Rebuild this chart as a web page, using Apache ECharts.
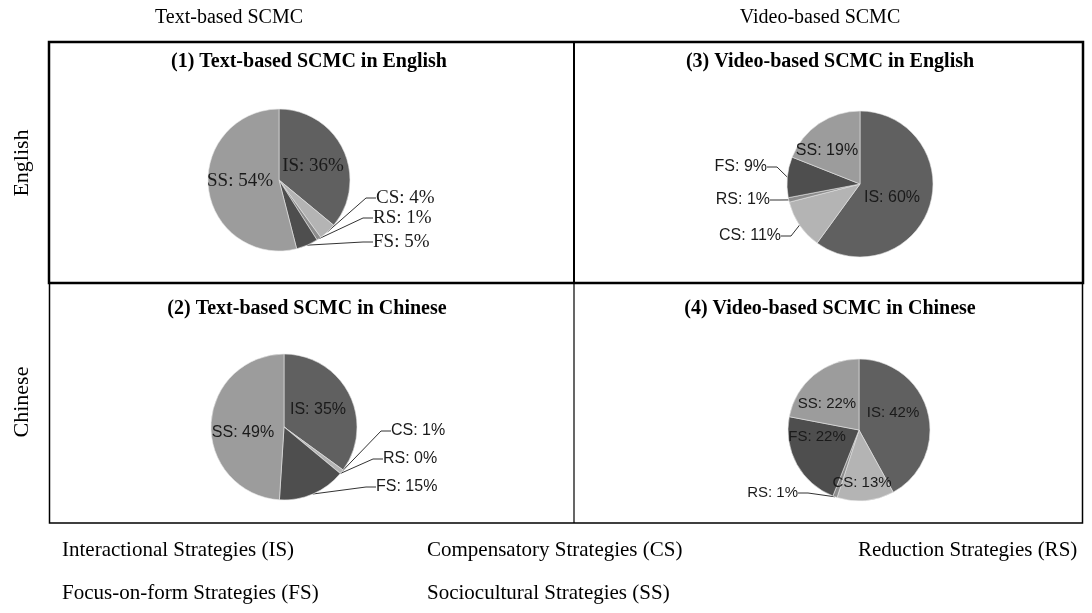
<!DOCTYPE html>
<html>
<head>
<meta charset="utf-8">
<script src="https://cdn.jsdelivr.net/npm/echarts@6/dist/echarts.min.js"></script>
<style>
html, body { margin: 0; padding: 0; background: #fff; }
#chart1 { width: 1092px; height: 613px; }
</style>
</head>
<body>
<div id="chart1"></div>
<script>
// strategy categories and shares (%) per condition
var categories = ['IS', 'CS', 'RS', 'FS', 'SS'];
var textEnglish = [36, 4, 1, 5, 54];
var textChinese = [35, 1, 0, 15, 49];
var videoEnglish = [60, 11, 1, 9, 19];
var videoChinese = [42, 13, 1, 22, 22];

var panelTitles = [
	'(1) Text-based SCMC in English',
	'(2) Text-based SCMC in Chinese',
	'(3) Video-based SCMC in English',
	'(4) Video-based SCMC in Chinese'
];
var columnNames = ['Text-based SCMC', 'Video-based SCMC'];
var rowNames = ['English', 'Chinese'];
var legendRow1 = ['Interactional Strategies (IS)', 'Compensatory Strategies (CS)', 'Reduction Strategies (RS)'];
var legendRow2 = ['Focus-on-form Strategies (FS)', 'Sociocultural Strategies (SS)'];

var colors = ['#606060', '#b4b4b4', '#8c8c8c', '#4e4e4e', '#9c9c9c'];

// label placement: [x, y, align, inside?]
var labelPos = [
	[[313, 166, 'center', 1], [376, 198, 'left', 0], [373, 218, 'left', 0], [373, 242, 'left', 0], [240, 181, 'center', 1]],
	[[318, 410, 'center', 1], [391, 431, 'left', 0], [383, 459, 'left', 0], [376, 487, 'left', 0], [243, 433, 'center', 1]],
	[[892, 198, 'center', 1], [781, 236, 'right', 0], [770, 200, 'right', 0], [767, 167, 'right', 0], [827, 151, 'center', 1]],
	[[893, 413, 'center', 1], [862, 483, 'center', 1], [798, 493, 'right', 0], [817, 437, 'center', 1], [827, 404, 'center', 1]]
];

var myChart = echarts.init(document.getElementById('chart1'));

function makePie(k, values, center, radius, font, size) {
	var data = [];
	for (var i = 0; i < categories.length; i++) {
		var inside = labelPos[k][i][3] == 1;
		data.push({
			name: categories[i],
			value: values[i],
			itemStyle: { color: colors[i] },
			label: { position: inside ? 'inside' : 'outside' },
			labelLine: { show: !inside }
		});
	}
	return {
		type: 'pie',
		center: center,
		radius: radius,
		startAngle: 90,
		clockwise: true,
		avoidLabelOverlap: false,
		animation: false,
		silent: true,
		itemStyle: { borderColor: '#e6e6e6', borderWidth: 0.6 },
		label: {
			formatter: '{b}: {c}%',
			fontFamily: font,
			fontSize: size,
			color: '#1a1a1a'
		},
		labelLine: {
			length: 8,
			length2: 10,
			lineStyle: { color: '#333', width: 1 }
		},
		labelLayout: function (p) {
			var pos = labelPos[k][p.dataIndex];
			return { x: pos[0], y: pos[1], align: pos[2], verticalAlign: 'middle' };
		},
		data: data
	};
}

var serif = 'Liberation Serif, Times New Roman, serif';
var sans = 'Liberation Sans, Arial, sans-serif';

function txt(x, y, s, size, opts) {
	opts = opts || {};
	return {
		type: 'text',
		x: x,
		y: y,
		rotation: opts.rotation || 0,
		style: {
			text: s,
			fontFamily: serif,
			fontSize: size,
			fontWeight: opts.bold ? 'bold' : 'normal',
			fill: '#000',
			align: opts.align || 'left',
			verticalAlign: 'middle'
		}
	};
}

var graphics = [
	// table frame
	{ type: 'rect', shape: { x: 49, y: 42, width: 1034, height: 241 }, style: { fill: 'none', stroke: '#000', lineWidth: 2.5 } },
	{ type: 'rect', shape: { x: 49.5, y: 283, width: 1033, height: 240 }, style: { fill: 'none', stroke: '#000', lineWidth: 1.5 } },
	{ type: 'line', shape: { x1: 574, y1: 42, x2: 574, y2: 283 }, style: { stroke: '#000', lineWidth: 2 } },
	{ type: 'line', shape: { x1: 574, y1: 283, x2: 574, y2: 523 }, style: { stroke: '#000', lineWidth: 1.2 } },
	txt(229, 18, columnNames[0], 20, { align: 'center' }),
	txt(820, 18, columnNames[1], 20, { align: 'center' }),
	txt(22, 163, rowNames[0], 22, { align: 'center', rotation: Math.PI / 2 }),
	txt(22, 402, rowNames[1], 22, { align: 'center', rotation: Math.PI / 2 }),
	txt(309, 62, panelTitles[0], 20, { align: 'center', bold: true }),
	txt(307, 309, panelTitles[1], 20, { align: 'center', bold: true }),
	txt(830, 62, panelTitles[2], 20, { align: 'center', bold: true }),
	txt(830, 309, panelTitles[3], 20, { align: 'center', bold: true }),
	txt(62, 550, legendRow1[0], 21),
	txt(427, 550, legendRow1[1], 21),
	txt(858, 550, legendRow1[2], 21),
	txt(62, 593, legendRow2[0], 21),
	txt(427, 593, legendRow2[1], 21)
];

var option = {
	backgroundColor: '#ffffff',
	animation: false,
	graphic: graphics,
	series: [
		makePie(0, textEnglish, [279, 180], 71, serif, 19),
		makePie(1, textChinese, [284, 427], 73, sans, 16),
		makePie(2, videoEnglish, [860, 184], 73, sans, 16),
		makePie(3, videoChinese, [859, 430], 71, sans, 15)
	]
};
myChart.setOption(option);
</script>
</body>
</html>
